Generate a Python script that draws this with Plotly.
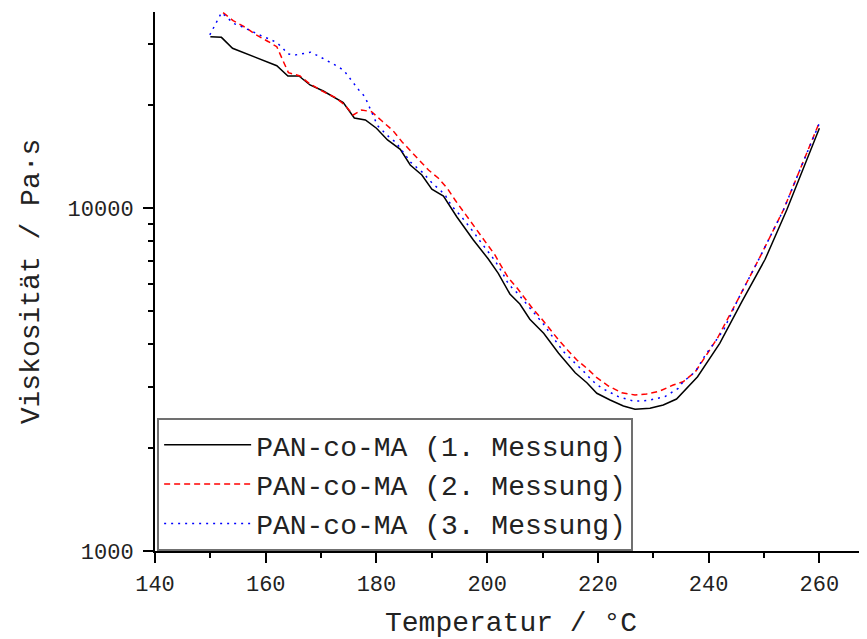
import plotly.graph_objects as go

# 1. Messung
t1 = [150, 152, 154, 158, 162, 164, 166, 168, 170.4, 174, 176, 178, 180, 182, 184.3, 186.1, 188.2, 190,
      192.1, 194.5, 197.5, 200.2, 202, 204.1, 205.9, 207.7, 210.2, 212.9, 215.9, 218, 219.8, 222.2, 224.6,
      226.7, 229.4, 231.8, 234.2, 238, 242, 246, 250.2, 254.1, 257.4, 260]
v1 = [31570, 31440, 29220, 27620, 25990, 24250, 24250, 22840, 21930, 20280, 18300, 18060, 17080, 15790,
      14830, 13350, 12480, 11340, 10840, 9430, 8070, 7100, 6450, 5615, 5250, 4740, 4313, 3771, 3310, 3095,
      2883, 2755, 2647, 2589, 2606, 2665, 2774, 3223, 4032, 5332, 7087, 9867, 13350, 17080]

# 2. Messung
t2 = [152.3, 154.1, 156.3, 158.1, 160.5, 162, 163.2, 164.1, 166.2, 168, 170.4, 172.5, 174.3, 175.8, 177.3,
      179.1, 181, 183, 184.6, 186.1, 187.8, 189.4, 191.2, 192.8, 194.2, 195.6, 197, 198.4, 199.9, 201.4,
      202.6, 203.8, 205.3, 206.8, 208.3, 209.9, 211.4, 212.9, 214.5, 216.2, 218, 219.8, 221.9, 224.3,
      226.7, 228.8, 231.2, 233.6, 235.4, 237.6, 239.4, 241.6, 245.4, 249.3, 253.5, 257.1, 259.8]
v2 = [37110, 35170, 33640, 32090, 30530, 29530, 26700, 24800, 24250, 22990, 21830, 21020, 19960, 18670,
      19310, 19090, 17930, 16800, 15610, 14700, 13800, 12900, 12210, 11410, 10550, 9820, 9085, 8472, 7853,
      7295, 6743, 6263, 5873, 5454, 5067, 4738, 4409, 4123, 3855, 3605, 3410, 3201, 3027, 2894, 2850, 2869,
      2927, 3048, 3115, 3332, 3686, 4178, 5454, 7211, 9867, 13650, 17460]

# 3. Messung
t3 = [149.9, 151.3, 152, 153, 154.1, 155.4, 158.1, 159.3, 160.8, 162, 163, 164, 165.3, 166.7, 168.1, 169.4,
      170.6, 171.9, 173.1, 174.2, 175.1, 176, 176.9, 177.9, 178.5, 179.1, 179.6, 180.2, 181.3, 182.4, 183.5,
      184.4, 185.3, 186.2, 187.3, 188.4, 189.4, 190.4, 191.5, 192.5, 193.3, 194.2, 195.1, 196, 196.9, 197.8,
      198.7, 199.6, 200.5, 201.4, 202.8, 203.6, 204.4, 205.5, 206.5, 207.4, 208.3, 209.3, 210.3, 212, 212.9,
      213.8, 214.7, 215.7, 216.8, 217.9, 218.7, 219.9, 221.1, 222.5, 223.7, 226.4, 227.9, 229.4, 232.1,
      234.5, 235.4, 237.6, 239.4, 242.7, 245.4, 249.3, 253.5, 257.1, 260]
v3 = [31950, 35170, 37110, 35970, 34560, 33940, 32310, 31730, 31030, 30330, 29330, 28120, 27930, 28250,
      28440, 27800, 27140, 26420, 25820, 25080, 23980, 22940, 21980, 21110, 20100, 19090, 18180, 17380,
      16690, 16030, 15540, 14830, 14210, 13590, 13110, 12670, 12130, 11670, 11290, 10840, 10320, 9867, 9541,
      9164, 8761, 8398, 8013, 7681, 7378, 7021, 6450, 6098, 5873, 5641, 5393, 5180, 4952, 4738, 4560, 4170,
      3986, 3811, 3686, 3540, 3410, 3281, 3167, 3048, 2960, 2883, 2818, 2737, 2737, 2755, 2818, 2980, 3115,
      3332, 3728, 4409, 5454, 7211, 9867, 13650, 17660]

names = ["PAN-co-MA (1. Messung)", "PAN-co-MA (2. Messung)", "PAN-co-MA (3. Messung)"]

FONT = "Liberation Mono, Courier New, monospace"

fig = go.Figure()
fig.add_trace(go.Scatter(x=t1, y=v1, mode="lines", name=names[0],
                         line=dict(color="#000000", width=1.5)))
fig.add_trace(go.Scatter(x=t2, y=v2, mode="lines", name=names[1],
                         line=dict(color="#ff0000", width=1.5, dash="6px,4px")))
fig.add_trace(go.Scatter(x=t3, y=v3, mode="lines", name=names[2],
                         line=dict(color="#0000ff", width=1.5, dash="2px,5px")))

fig.update_layout(
    width=859, height=631,
    margin=dict(l=147, r=0, t=4, b=88),
    paper_bgcolor="white", plot_bgcolor="white",
    font=dict(family=FONT, size=22, color="#222222"),
    legend=dict(x=0.003, y=0.0, xanchor="left", yanchor="bottom",
                bgcolor="white", bordercolor="#707070", borderwidth=2,
                font=dict(family=FONT, size=28, color="#222222"),
                itemwidth=87),
    xaxis=dict(range=[140, 268.6], showgrid=False, zeroline=False, automargin=False,
               showline=True, linecolor="black", linewidth=2,
               ticks="outside", ticklen=10, tickwidth=2, tickcolor="black",
               tickvals=[140, 160, 180, 200, 220, 240, 260],
               ticklabelstandoff=2,
               minor=dict(tickvals=[150, 170, 190, 210, 230, 250], ticks="outside",
                          ticklen=5, tickwidth=2, tickcolor="black"),
               tickfont=dict(family=FONT, size=22, color="#222222"),
               title=dict(text="Temperatur / °C", font=dict(family=FONT, size=28, color="#222222"),
                          standoff=16)),
    yaxis=dict(type="log", range=[3, 4.5714], showgrid=False, zeroline=False, automargin=False,
               showline=True, linecolor="black", linewidth=2,
               ticks="outside", ticklen=10, tickwidth=2, tickcolor="black",
               tickvals=[1000, 10000], ticktext=["1000", "10000"],
               ticklabelstandoff=5,
               minor=dict(tickvals=[2000, 3000, 4000, 5000, 6000, 7000, 8000, 9000, 20000, 30000],
                          ticks="outside", ticklen=5, tickwidth=2, tickcolor="black"),
               tickfont=dict(family=FONT, size=22, color="#222222"),
               title=dict(text="Viskosität / Pa·s", font=dict(family=FONT, size=28, color="#222222"),
                          standoff=20)),
)

fig.write_html("out.html")
